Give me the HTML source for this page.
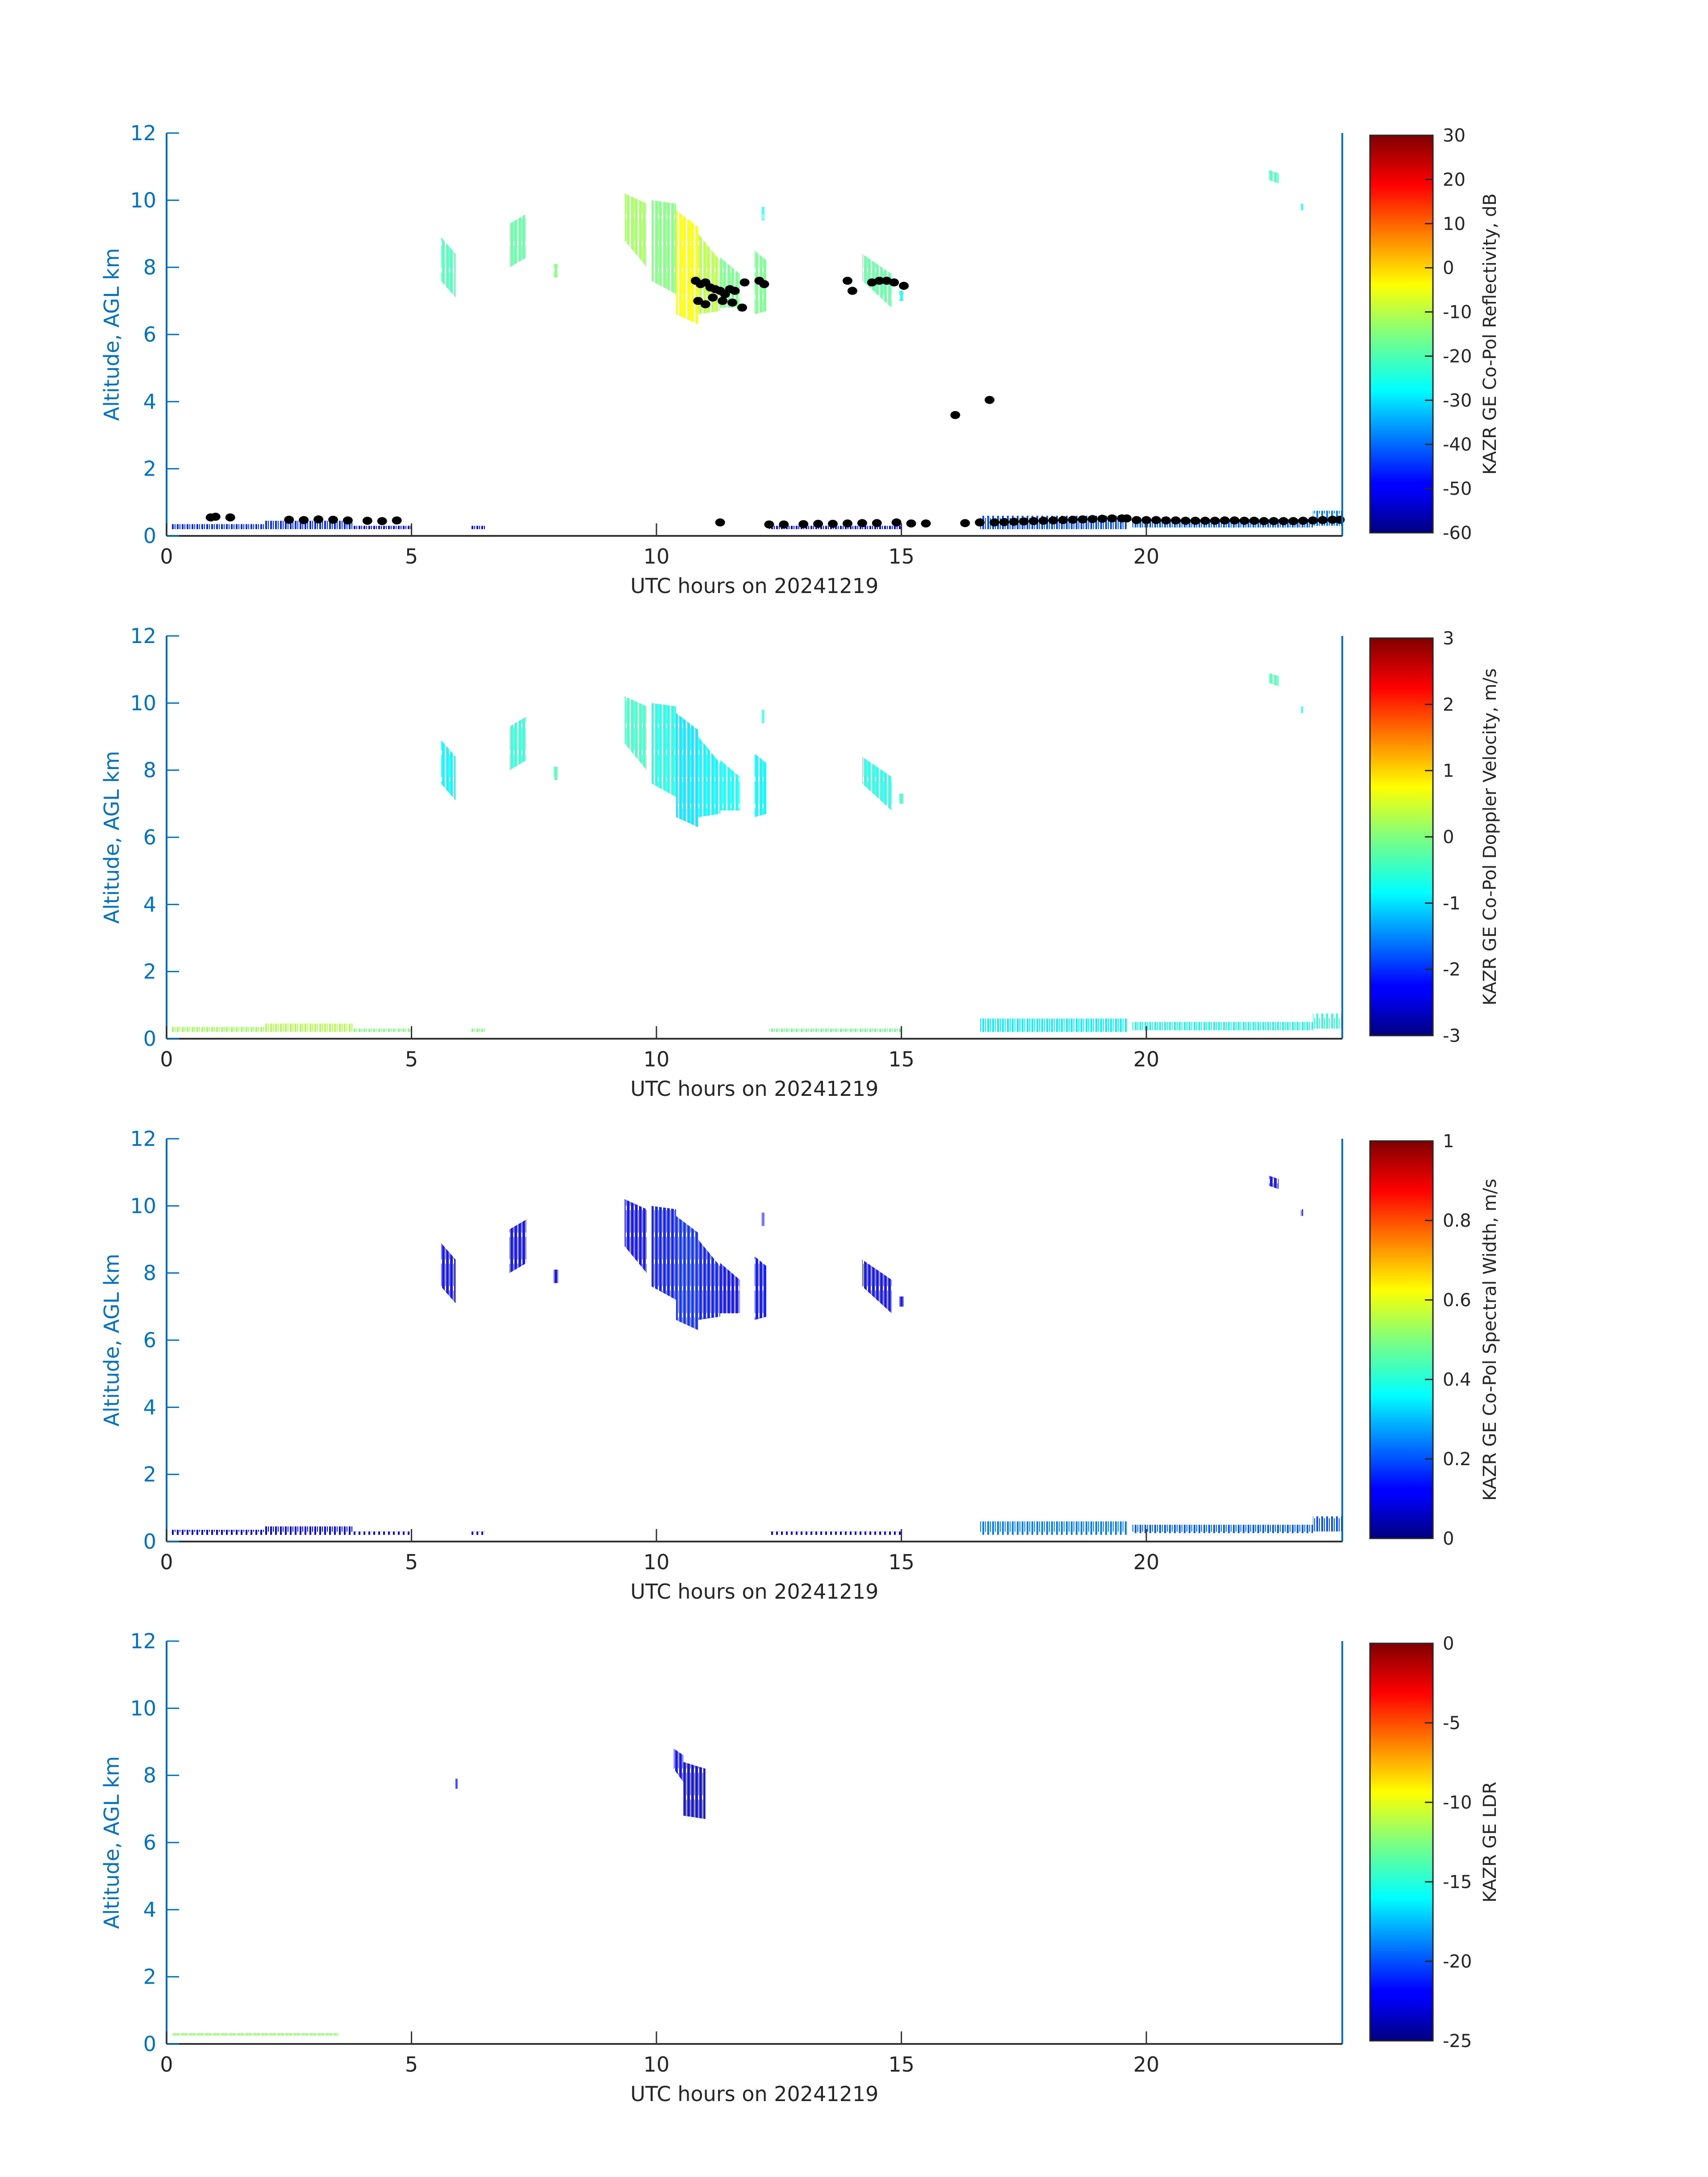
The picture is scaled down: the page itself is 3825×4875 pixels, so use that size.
<!DOCTYPE html>
<html><head><meta charset="utf-8">
<style>
html,body{margin:0;padding:0;background:#fff;}
svg{display:block;font-family:"DejaVu Sans","Liberation Sans",sans-serif;}
</style></head>
<body>
<svg id="fig" width="3825" height="4875" viewBox="0 0 3825 4875" xmlns="http://www.w3.org/2000/svg">
<defs>
<linearGradient id="jet" x1="0" y1="1" x2="0" y2="0">
<stop offset="0" stop-color="#000080"/><stop offset="0.11" stop-color="#0000ff"/><stop offset="0.125" stop-color="#0000ff"/>
<stop offset="0.36" stop-color="#00ffff"/><stop offset="0.5" stop-color="#7fff7f"/><stop offset="0.625" stop-color="#ffff00"/>
<stop offset="0.875" stop-color="#ff0000"/><stop offset="1" stop-color="#800000"/>
</linearGradient>
<pattern id="stripes" width="11" height="40" patternUnits="userSpaceOnUse">
<rect x="0" y="0" width="4" height="40" fill="#fff"/><rect x="6" y="0" width="2" height="30" fill="#fff"/>
</pattern>
<mask id="streak"><rect x="0" y="0" width="3825" height="4875" fill="url(#stripes)"/></mask>
<pattern id="stripes2" width="9" height="60" patternUnits="userSpaceOnUse">
<rect x="0" y="0" width="6" height="60" fill="#fff"/><rect x="7" y="10" width="1" height="50" fill="#fff"/>
</pattern>
<mask id="streak2"><rect x="0" y="0" width="3825" height="4875" fill="url(#stripes2)"/></mask>
</defs>
</svg>
<script>
// ---- data ----
const xTicks = [0,5,10,15,20];
const yTicks = [0,2,4,6,8,10,12];
const panelTitles = ["KAZR GE Co-Pol Reflectivity, dB","KAZR GE Co-Pol Doppler Velocity, m/s","KAZR GE Co-Pol Spectral Width, m/s","KAZR GE LDR"];
const cbarMin = [-60,-3,0,-25];
const cbarMax = [30,3,1,0];
const cbarTicks0 = [-60,-50,-40,-30,-20,-10,0,10,20,30];
const cbarTicks1 = [-3,-2,-1,0,1,2,3];
const cbarTicks2 = [0,0.2,0.4,0.6,0.8,1];
const cbarTicks3 = [-25,-20,-15,-10,-5,0];
// cloud trapezoids: [t0, t1, bottomAt t0, top at t0, bottom at t1, top at t1]
const cloudShapes = [
 [5.6,5.9,7.6,8.9,7.1,8.4],[7.0,7.35,8.0,9.3,8.3,9.6],[7.9,8.0,7.7,8.1,7.7,8.1],
 [9.35,9.8,8.8,10.2,8.0,9.9],[9.9,10.4,7.6,10.0,7.2,9.9],[10.4,10.85,6.6,9.7,6.3,9.2],
 [10.85,11.3,6.6,9.0,6.7,8.2],[11.3,11.7,6.8,8.3,6.8,7.8],[12.0,12.25,6.6,8.5,6.7,8.2],
 [12.15,12.2,9.4,9.8,9.4,9.8],[14.2,14.8,7.6,8.4,6.8,7.8],[14.95,15.05,7.0,7.3,7.0,7.3],
 [22.5,22.7,10.6,10.9,10.5,10.8],[23.15,23.2,9.7,9.9,9.7,9.9]
];
const zVals = [-20,-18,-15,-12,-15,-4,-10,-16,-16,-25,-18,-25,-20,-25];
const vVals = [-0.8,-0.5,-0.3,-0.4,-0.6,-0.9,-0.8,-0.7,-0.8,-0.5,-0.6,-0.4,-0.3,-0.5];
const wVals = [0.12,0.12,0.1,0.12,0.14,0.16,0.14,0.12,0.13,0.1,0.12,0.12,0.12,0.12];
// low-level clutter: [t0, t1, bottom, top]
const lowBands = [
 [0.1,2.0,0.2,0.35],[2.0,3.8,0.2,0.45],[3.8,5.0,0.2,0.3],[6.2,6.5,0.2,0.3],[12.3,15.0,0.2,0.3],
 [16.6,19.6,0.2,0.6],[19.7,23.4,0.25,0.5],[23.4,24,0.3,0.75]
];
const lowZ = [-45,-45,-48,-48,-48,-42,-40,-38];
const lowV = [0.2,0.3,0,0,-0.1,-0.8,-0.6,-0.5];
const lowW = [0.1,0.12,0.1,0.1,0.1,0.25,0.22,0.2];
const ldrShapes = [[10.35,10.55,8.2,8.8,7.8,8.6],[10.55,11.0,6.8,8.4,6.7,8.2],[5.9,5.95,7.6,7.9,7.6,7.9],[0.1,3.5,0.25,0.32,0.25,0.32]];
const ldrVals = [-22,-23,-22,-12];
// black dot markers: [t, km]
const dotsT = [10.8,10.9,11.0,11.1,11.2,11.3,11.4,11.5,11.6,11.8,12.1,12.2,10.85,11.0,11.15,11.35,11.55,11.75,13.9,14.0,14.4,14.55,14.7,14.85,15.05,16.1,16.8,0.9,1.0,1.3,2.5,2.8,3.1,3.4,3.7,4.1,4.4,4.7,11.3,12.3,12.6,13,13.3,13.6,13.9,14.2,14.5,14.9,15.2,15.5,16.3,16.6,16.9,17.1,17.3,17.5,17.7,17.9,18.1,18.3,18.5,18.7,18.9,19.1,19.3,19.5,19.6,19.8,20.0,20.2,20.4,20.6,20.8,21.0,21.2,21.4,21.6,21.8,22.0,22.2,22.4,22.6,22.8,23.0,23.2,23.4,23.6,23.8,23.95];
const dotsH = [7.6,7.5,7.55,7.4,7.35,7.3,7.2,7.35,7.3,7.55,7.6,7.5,7.0,6.9,7.1,7.0,6.95,6.8,7.6,7.3,7.55,7.6,7.6,7.55,7.45,3.6,4.05,0.55,0.57,0.55,0.48,0.47,0.49,0.48,0.46,0.45,0.44,0.46,0.4,0.34,0.34,0.35,0.36,0.36,0.37,0.38,0.38,0.4,0.37,0.37,0.38,0.40,0.40,0.41,0.42,0.43,0.44,0.45,0.46,0.47,0.48,0.49,0.50,0.51,0.52,0.52,0.52,0.47,0.47,0.47,0.46,0.46,0.45,0.45,0.45,0.45,0.46,0.46,0.45,0.45,0.44,0.44,0.44,0.44,0.45,0.46,0.47,0.48,0.48];

const NS="http://www.w3.org/2000/svg";
const svg=document.getElementById('fig');
const L=373,W=2633,H=902,tops=[298,1424,2550,3675];
function mk(tag,attrs,parent){const e=document.createElementNS(NS,tag);for(const k in attrs)e.setAttribute(k,attrs[k]);(parent||svg).appendChild(e);return e;}
function jet(f){f=Math.max(0,Math.min(1,f));const r=Math.min(4*f-1.5,-4*f+4.5),g=Math.min(4*f-0.5,-4*f+3.5),b=Math.min(4*f+0.5,-4*f+2.5);const c=v=>Math.round(255*Math.max(0,Math.min(1,v)));return `rgb(${c(r)},${c(g)},${c(b)})`;}

for(let p=0;p<4;p++){
 const T=tops[p];
 const xs=t=>L+t/24*W, ys=h=>T+H-h/12*H;
 const g=mk('g',{});
 
 
 const norm=v=>(v-cbarMin[p])/(cbarMax[p]-cbarMin[p]);
 const shapes = p===3?ldrShapes:cloudShapes;
 const vals = p===0?zVals:p===1?vVals:p===2?wVals:ldrVals;
 const cg=mk('g',{mask:'url(#streak2)'},g);
 
 
 shapes.forEach((s,i)=>{
   const poly=mk('polygon',{points:`${xs(s[0])},${ys(s[2])} ${xs(s[0])},${ys(s[3])} ${xs(s[1])},${ys(s[5])} ${xs(s[1])},${ys(s[4])}`,fill:jet(norm(vals[i])),'fill-opacity':0.9},cg);
   
   
 });
 if(p<3){
  const lg=mk('g',{mask:'url(#streak)'},g);
  
  
  const lv = p===0?lowZ:p===1?lowV:lowW;
  lowBands.forEach((b,i)=>{
   const r=mk('rect',{x:xs(b[0]),y:ys(b[3]),width:xs(b[1])-xs(b[0]),height:ys(b[2])-ys(b[3]),fill:jet(norm(lv[i]))},lg);
   
   
  });
 }
 if(p===0){
  dotsT.forEach((t,i)=>{
   const c=mk('ellipse',{cx:xs(t),cy:ys(dotsH[i]),rx:11,ry:9,fill:'#000'},g);
   
   
  });
 }
 // axes
 const ax=mk('line',{x1:L,y1:T,x2:L,y2:T+H,stroke:'#0072BD','stroke-width':4},g);
 
 const rax=mk('line',{x1:L+W,y1:T,x2:L+W,y2:T+H,stroke:'#0072BD','stroke-width':4},g);
 
 const bx=mk('line',{x1:L,y1:T+H,x2:L+W,y2:T+H,stroke:'#333','stroke-width':4},g);
 
 yTicks.forEach(v=>{
  mk('line',{x1:L,y1:ys(v),x2:L+28,y2:ys(v),stroke:'#0072BD','stroke-width':3},g);
  const t=mk('text',{x:350,y:ys(v)+16,'text-anchor':'end','font-size':46,fill:'#0072BD'},g);
  t.textContent=v;
  
 });
 xTicks.forEach(v=>{
  mk('line',{x1:xs(v),y1:T+H,x2:xs(v),y2:T+H-28,stroke:'#333','stroke-width':3},g);
  const t=mk('text',{x:xs(v),y:T+H+62,'text-anchor':'middle','font-size':46,fill:'#262626'},g);
  t.textContent=v;
  
 });
 const xl=mk('text',{x:xs(12),y:T+H+128,'text-anchor':'middle','font-size':46,fill:'#262626'},g);
 xl.textContent='UTC hours on 20241219';
 
 const yl=mk('text',{x:0,y:0,'text-anchor':'middle','font-size':46,fill:'#0072BD',transform:`translate(266,${T+H/2}) rotate(-90)`},g);
 yl.textContent='Altitude, AGL km';
 
 // colorbar
 const cT=T+5,cB=T+H-7,cX=3068,cW=141;
 const cb=mk('rect',{x:cX,y:cT,width:cW,height:cB-cT,fill:'url(#jet)',stroke:'#262626','stroke-width':3},g);
 
 const ticks=[cbarTicks0,cbarTicks1,cbarTicks2,cbarTicks3][p];
 ticks.forEach(v=>{
  const y=cB-norm(v)*(cB-cT);
  mk('line',{x1:cX+cW-18,y1:y,x2:cX+cW,y2:y,stroke:'#262626','stroke-width':3},g);
  const t=mk('text',{x:3231,y:y+14,'font-size':40,fill:'#262626'},g);
  t.textContent=v;
  
 });
 const ct=mk('text',{x:0,y:0,'text-anchor':'middle','font-size':40,fill:'#262626',transform:`translate(3350,${(cT+cB)/2}) rotate(-90)`},g);
 ct.textContent=panelTitles[p];
 
}
</script>
</body></html>
